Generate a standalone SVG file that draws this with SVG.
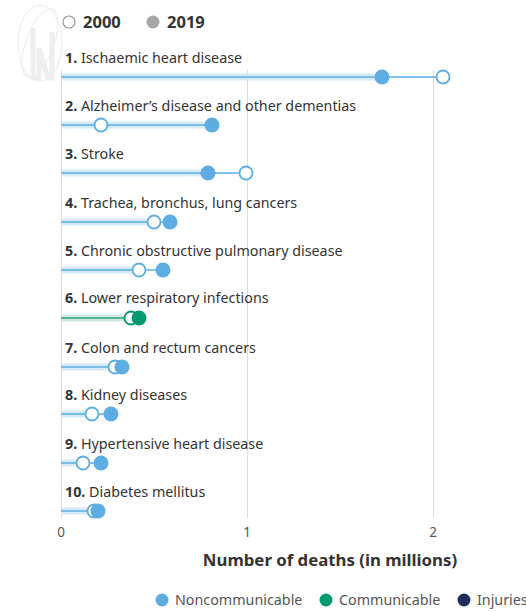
<svg xmlns="http://www.w3.org/2000/svg" width="526" height="612" viewBox="0 0 526 612">
<style>
text{font-family:"Noto Sans","Open Sans","DejaVu Sans",sans-serif;fill:#333}
.lbl{font-size:14.3px}
.num{font-weight:bold}
.tick{font-size:13.5px;fill:#555}
.grid{stroke:#dcdcdc;stroke-width:1}
.band{stroke:#d4eaf9;stroke-width:7}
.line{stroke:#5dade2;stroke-width:1.5}
.bandg{stroke:#cfe9e0;stroke-width:7}
.lineg{stroke:#2e9e7e;stroke-width:1.5}
.full{fill:#5dade2}
.hol{fill:#fff;stroke:#5dade2;stroke-width:1.8}
.fullg{fill:#009a6e}
.holg{fill:#fff;stroke:#009a6e;stroke-width:1.8}
.leg{font-size:14.3px;fill:#555}
</style>
<g id="watermark" fill="none" stroke="#eeeeee" stroke-width="1.2">
<ellipse cx="40" cy="43" rx="22" ry="38"/>
<ellipse cx="40" cy="43" rx="14" ry="36" transform="rotate(20 40 43)"/>
<path d="M33 28 L33 78 L39 78 L39 48 L48 78 L52 78 L52 32" stroke="#eeeeee" stroke-width="5"/>
</g>
<g id="top-legend">
<circle cx="69" cy="22" r="6" fill="#fff" stroke="#999" stroke-width="1.2"/>
<text x="83" y="28" font-size="16.5" font-weight="bold">2000</text>
<circle cx="153" cy="22" r="6.5" fill="#a6a6a6"/>
<text x="167" y="28" font-size="16.5" font-weight="bold">2019</text>
</g>
<g id="grid">
<line class="grid" x1="61.5" y1="70" x2="61.5" y2="518"/>
<line class="grid" x1="247.5" y1="70" x2="247.5" y2="518"/>
<line class="grid" x1="433.5" y1="70" x2="433.5" y2="518"/>
</g>
<g id="connectors">
<line class="band" x1="61" y1="77" x2="382" y2="77"/><line class="line" x1="61" y1="77" x2="443" y2="77"/>
<line class="band" x1="61" y1="125" x2="212" y2="125"/><line class="line" x1="61" y1="125" x2="212" y2="125"/>
<line class="band" x1="61" y1="173" x2="208" y2="173"/><line class="line" x1="61" y1="173" x2="246" y2="173"/>
<line class="band" x1="61" y1="222" x2="154" y2="222"/><line class="line" x1="61" y1="222" x2="170" y2="222"/>
<line class="band" x1="61" y1="270" x2="139" y2="270"/><line class="line" x1="61" y1="270" x2="163" y2="270"/>
<line class="bandg" x1="61" y1="318" x2="131" y2="318"/><line class="lineg" x1="61" y1="318" x2="139" y2="318"/>
<line class="band" x1="61" y1="367" x2="115" y2="367"/><line class="line" x1="61" y1="367" x2="122" y2="367"/>
<line class="band" x1="61" y1="414" x2="92" y2="414"/><line class="line" x1="61" y1="414" x2="111" y2="414"/>
<line class="band" x1="61" y1="463" x2="83" y2="463"/><line class="line" x1="61" y1="463" x2="101" y2="463"/>
<line class="band" x1="61" y1="511" x2="94" y2="511"/><line class="line" x1="61" y1="511" x2="98" y2="511"/>
</g>
<g id="row1"><text class="lbl" x="65" y="63"><tspan class="num">1.</tspan> Ischaemic heart disease</text>
<circle class="hol" cx="443" cy="77" r="6.5"/><circle class="full" cx="382" cy="77" r="7.5"/></g>
<g id="row2"><text class="lbl" x="65" y="111"><tspan class="num">2.</tspan> Alzheimer’s disease and other dementias</text>
<circle class="hol" cx="101" cy="125" r="6.5"/><circle class="full" cx="212" cy="125" r="7.5"/></g>
<g id="row3"><text class="lbl" x="65" y="159"><tspan class="num">3.</tspan> Stroke</text>
<circle class="full" cx="208" cy="173" r="7.5"/><circle class="hol" cx="246" cy="173" r="6.5"/></g>
<g id="row4"><text class="lbl" x="65" y="208"><tspan class="num">4.</tspan> Trachea, bronchus, lung cancers</text>
<circle class="hol" cx="154" cy="222" r="6.5"/><circle class="full" cx="170" cy="222" r="7.5"/></g>
<g id="row5"><text class="lbl" x="65" y="256"><tspan class="num">5.</tspan> Chronic obstructive pulmonary disease</text>
<circle class="hol" cx="139" cy="270" r="6.5"/><circle class="full" cx="163" cy="270" r="7.5"/></g>
<g id="row6"><text class="lbl" x="65" y="303"><tspan class="num">6.</tspan> Lower respiratory infections</text>
<circle class="holg" cx="131" cy="318" r="6.5"/><circle class="fullg" cx="139" cy="318" r="7.5"/></g>
<g id="row7"><text class="lbl" x="65" y="353"><tspan class="num">7.</tspan> Colon and rectum cancers</text>
<circle class="hol" cx="115" cy="367" r="6.5"/><circle class="full" cx="122" cy="367" r="7.5"/></g>
<g id="row8"><text class="lbl" x="65" y="400"><tspan class="num">8.</tspan> Kidney diseases</text>
<circle class="hol" cx="92" cy="414" r="6.5"/><circle class="full" cx="111" cy="414" r="7.5"/></g>
<g id="row9"><text class="lbl" x="65" y="449"><tspan class="num">9.</tspan> Hypertensive heart disease</text>
<circle class="hol" cx="83" cy="463" r="6.5"/><circle class="full" cx="101" cy="463" r="7.5"/></g>
<g id="row10"><text class="lbl" x="65" y="497"><tspan class="num">10.</tspan> Diabetes mellitus</text>
<circle class="hol" cx="94" cy="511" r="6.5"/><circle class="full" cx="98" cy="511" r="7.5"/></g>
<g id="axis">
<text class="tick" x="61" y="537" text-anchor="middle">0</text>
<text class="tick" x="247" y="537" text-anchor="middle">1</text>
<text class="tick" x="433" y="537" text-anchor="middle">2</text>
<text x="330" y="566" font-size="16.8" font-weight="bold" text-anchor="middle">Number of deaths (in millions)</text>
</g>
<g id="legend">
<circle cx="162" cy="600" r="6.5" fill="#5dade2"/><text class="leg" x="175" y="605">Noncommunicable</text>
<circle cx="326" cy="600" r="6.5" fill="#009a6e"/><text class="leg" x="339" y="605">Communicable</text>
<circle cx="464" cy="600" r="6.5" fill="#1f2d5a"/><text class="leg" x="477" y="605">Injuries</text>
</g>
</svg>
